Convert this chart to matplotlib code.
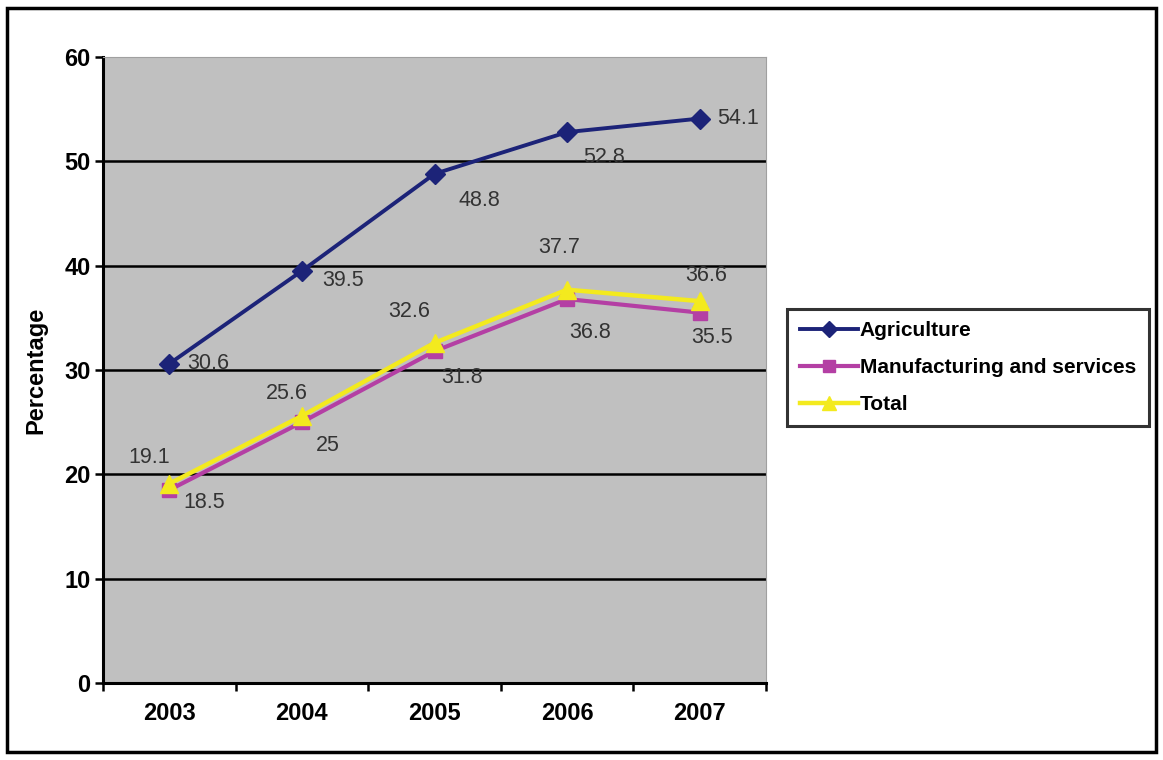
import matplotlib.pyplot as plt
from matplotlib.patches import Rectangle
import matplotlib
matplotlib.rcParams['font.family'] = ['Liberation Sans', 'DejaVu Sans']

years = ['2003', '2004', '2005', '2006', '2007']
agriculture = [30.6, 39.5, 48.8, 52.8, 54.1]
manufacturing = [18.5, 25, 31.8, 36.8, 35.5]
total = [19.1, 25.6, 32.6, 37.7, 36.6]

# label offsets (pixels)
offs_agri = [(39, 0), (41, -10), (45, -27), (37, -25), (38, 0)]
offs_manu = [(35, -13), (26, -23), (28, -26), (23, -33), (12, -25)]
offs_total = [(-20, 26), (-15, 22), (-25, 31), (-8, 42), (6, 26)]

fig = plt.figure(figsize=(11.63, 7.6), dpi=100)
# outer frame
fig.patches.append(Rectangle((0.006, 0.01), 0.988, 0.98, transform=fig.transFigure,
                             fill=False, edgecolor='black', linewidth=2.5))

ax = fig.add_axes([103/1163, 1-683/760, 663/1163, 626/760])
ax.set_facecolor('#c0c0c0')
x = list(range(len(years)))

for y in range(10, 60, 10):
    ax.axhline(y, color='black', linewidth=1.8, zorder=1)

ax.plot(x, agriculture, color='#1c2378', marker='D', markersize=10, linewidth=2.8,
        label='Agriculture', zorder=4)
ax.plot(x, manufacturing, color='#b43fa4', marker='s', markersize=10, linewidth=3.0,
        label='Manufacturing and services', zorder=3)
ax.plot(x, total, color='#f3ea1e', marker='^', markersize=13, linewidth=3.2,
        label='Total', zorder=3)

lab = dict(fontsize=15.5, color='#333333', zorder=5, ha='center', va='center',
           textcoords='offset pixels')
for series, offs in ((agriculture, offs_agri), (manufacturing, offs_manu),
                     (total, offs_total)):
    for i, v in enumerate(series):
        ax.annotate(f'{v:g}', (i, v), xytext=offs[i], **lab)

ax.set_xlim(-0.5, 4.5)
ax.set_ylim(0, 60)
ax.set_yticks(range(0, 70, 10))
ax.set_xticks(x)
ax.set_xticklabels(years)
ax.set_xticks([i - 0.5 for i in range(6)], minor=True)
ax.tick_params(axis='x', which='major', length=0, pad=14)
ax.tick_params(axis='x', which='minor', length=6, width=1.8, direction='out')
ax.tick_params(axis='y', length=6, width=1.8, pad=3)
for t in ax.get_xticklabels() + ax.get_yticklabels():
    t.set_fontweight('bold')
    t.set_fontsize(17)
ax.spines['left'].set_linewidth(2.2)
ax.spines['bottom'].set_linewidth(2.2)
ax.spines['top'].set_color('#a0a0a0')
ax.spines['right'].set_color('#a0a0a0')
ax.set_ylabel('Percentage', fontsize=17, fontweight='bold', labelpad=12)

leg = fig.legend(loc='upper left', bbox_to_anchor=(787/1163, 1-309/760),
                 frameon=True, fancybox=False, edgecolor='black',
                 prop={'weight': 'bold', 'size': 15}, handlelength=2.8,
                 handletextpad=0.1, borderpad=0.6, borderaxespad=0,
                 labelspacing=0.85, markerscale=0.8)
leg.get_frame().set_linewidth(2.2)

fig.savefig('out.png', dpi=100)
